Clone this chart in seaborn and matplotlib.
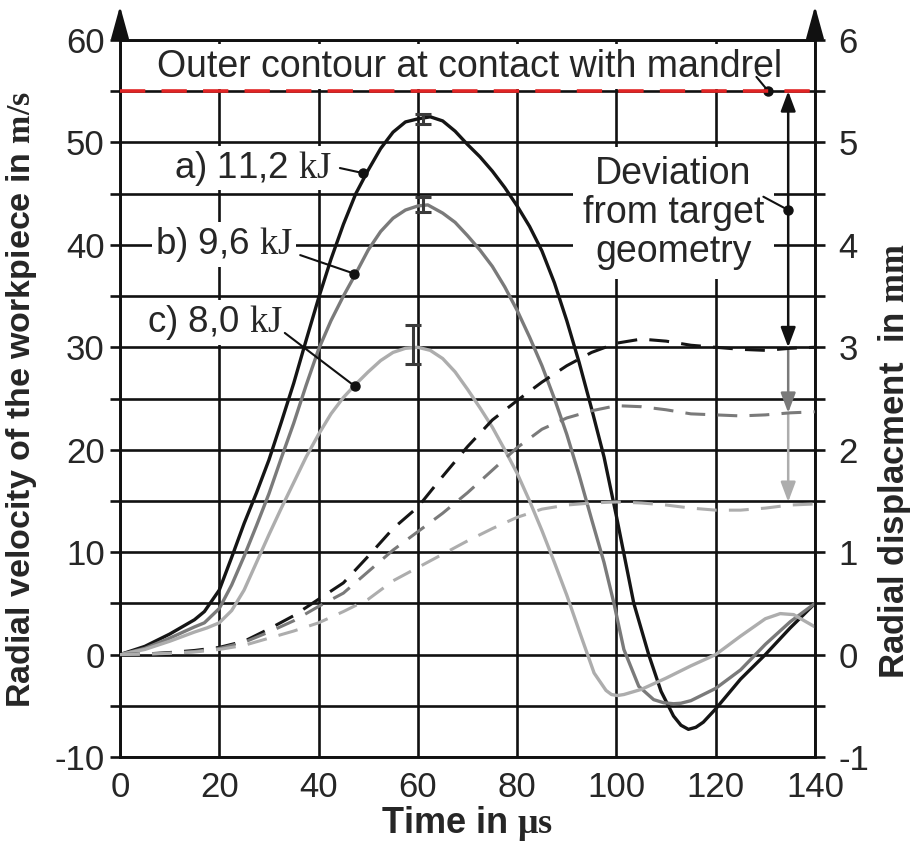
import numpy as np
import matplotlib
matplotlib.use("Agg")
import matplotlib.pyplot as plt
import seaborn as sns

# ---- radial velocity in m/s (solid curves, left axis) ----
t_a = [0, 5, 10, 15, 17, 20, 22.5, 25, 27.5, 30, 32.5, 35, 37.5, 40, 42.5, 45, 47.5, 50, 52.5, 55, 57.5,
       60, 62.5, 65, 67.5, 70, 72.5, 75, 77.5, 80, 82.5, 85, 87.5, 90, 92.5, 95, 97.5, 100,
       103.5, 106.5, 109, 111.5, 113, 114.5, 116, 117.5, 120, 125, 130, 135, 140]
v_a = [0, 0.8, 2.0, 3.4, 4.2, 6.3, 9.5, 12.8, 15.8, 19.0, 22.7, 26.5, 30.7, 34.8, 38.6, 42.0, 45.0, 47.3, 49.4, 51.0, 52.0,
       52.3, 52.5, 52.1, 51.1, 49.8, 48.6, 47.2, 45.6, 43.8, 41.8, 39.4, 36.3, 32.6, 28.5, 24.0, 19.3, 13.5,
       5.0, 0.0, -3.6, -6.0, -6.9, -7.3, -7.1, -6.6, -5.3, -2.4, 0.0, 2.6, 5.0]

t_b = [0, 5, 10, 15, 17, 20, 22.5, 25, 27.5, 30, 32.5, 35, 37.5, 40, 42.5, 45, 47.5, 50, 52.5, 55, 57.5,
       60, 62, 65, 67.5, 70, 72.5, 75, 77.5, 80, 82.5, 85, 87.5, 90, 92.5, 95, 97.5, 99.5,
       101.5, 104.5, 107.5, 109.5, 111.5, 113, 115, 120, 125, 130, 135, 140]
v_b = [0, 0.6, 1.6, 2.7, 3.1, 4.5, 6.8, 9.6, 12.6, 15.7, 19.2, 22.6, 26.3, 29.8, 32.6, 35.0, 37.2, 39.5, 41.3, 42.6, 43.4,
       43.8, 43.9, 43.1, 42.2, 40.9, 39.5, 37.9, 35.9, 33.6, 31.0, 28.2, 25.0, 21.5, 17.5, 13.2, 9.0, 5.0,
       0.5, -3.1, -4.4, -4.7, -4.8, -4.75, -4.5, -3.3, -1.5, 1.0, 3.2, 5.0]

t_c = [0, 5, 10, 15, 17.5, 20, 22.5, 25, 27.5, 30, 32.5, 35, 37.5, 40, 42.5, 45, 47.5, 50, 52.5, 55, 57.5,
       60, 62.5, 65, 67.5, 70, 72.5, 75, 77.5, 80, 82.5, 85, 87.5, 90,
       92.8, 95.5, 97.9, 99, 100.2, 101.5, 105, 110, 115, 120, 125, 130, 133, 135.7, 140]
v_c = [0, 0.5, 1.3, 2.2, 2.6, 3.1, 4.3, 6.3, 9.0, 11.7, 14.3, 16.8, 19.3, 21.5, 23.5, 25.1, 26.4, 27.6, 28.7, 29.5, 29.9,
       30.0, 29.7, 28.9, 27.6, 25.9, 24.1, 22.2, 20.0, 17.7, 15.0, 12.1, 9.0, 5.8,
       1.9, -1.8, -3.5, -3.9, -4.0, -3.9, -3.4, -2.3, -1.1, 0.0, 1.8, 3.5, 4.0, 3.9, 2.7]

# ---- radial displacement in mm (dashed curves, right axis) ----
t_disp = [0, 5, 10, 15, 20, 25, 30, 35, 40, 45, 50, 55, 60, 65, 70, 75, 80, 85, 90, 95, 100,
          105, 110, 115, 120, 125, 130, 135, 140]
d_a = [0, 0.005, 0.02, 0.04, 0.07, 0.13, 0.25, 0.38, 0.54, 0.70, 0.96, 1.23, 1.44, 1.74, 2.03, 2.29, 2.48, 2.66, 2.82, 2.95, 3.04,
       3.08, 3.06, 3.02, 3.00, 2.98, 2.97, 2.99, 3.00]
d_b = [0, 0.005, 0.015, 0.03, 0.06, 0.12, 0.22, 0.33, 0.47, 0.60, 0.81, 1.02, 1.20, 1.38, 1.58, 1.80, 2.02, 2.20, 2.31, 2.38, 2.43,
       2.42, 2.39, 2.35, 2.34, 2.33, 2.34, 2.36, 2.37]
d_c = [0, 0.004, 0.012, 0.025, 0.05, 0.09, 0.16, 0.23, 0.31, 0.42, 0.54, 0.72, 0.85, 0.98, 1.11, 1.23, 1.34, 1.42, 1.46, 1.48, 1.49,
       1.48, 1.46, 1.43, 1.41, 1.41, 1.43, 1.46, 1.47]

# scatter of the peak velocity
err_t = [61, 61, 59]
err_v = [52.3, 43.95, 30.3]
err_size = [0.5, 0.75, 1.9]

labels = ["a) 11,2 $\\mathrm{kJ}$", "b) 9,6 $\\mathrm{kJ}$", "c) 8,0 $\\mathrm{kJ}$"]
colors = ["#151515", "#7a7a7a", "#adadad"]

target_mm = 5.5
vel_ticks = list(range(-10, 61, 5))
vel_ticklabels = [str(v) if v % 10 == 0 else "" for v in vel_ticks]
mm_ticks = list(np.arange(-1, 6.01, 0.5))
mm_ticklabels = [str(int(v)) if v == int(v) else "" for v in mm_ticks]
time_ticks = list(range(0, 141, 20))

sns.set_style("white")
plt.rcParams["font.family"] = ["Liberation Sans", "DejaVu Sans"]
plt.rcParams["mathtext.fontset"] = "custom"
plt.rcParams["mathtext.rm"] = "Liberation Serif"
plt.rcParams["mathtext.bf"] = "Liberation Serif:bold"
plt.rcParams["axes.unicode_minus"] = False

LW_GRID = 1.9
fig = plt.figure(figsize=(9.16, 8.44), dpi=100)
ax = fig.add_axes([120 / 916, 87 / 844, 695 / 916, 717 / 844])
ax2 = ax.twinx()

# grid / axes
ax.set_xlim(0, 140)
ax.set_ylim(-10, 60)
ax2.set_ylim(-1, 6)
ax.set_axisbelow(True)
ax.grid(True, color="#111111", lw=LW_GRID)
ax2.grid(False)
ax.set_xticks(time_ticks)
ax.set_yticks(vel_ticks)
ax.set_yticklabels(vel_ticklabels)
ax2.set_yticks(mm_ticks)
ax2.set_yticklabels(mm_ticklabels)
for a in (ax, ax2):
    for s in a.spines.values():
        s.set_linewidth(LW_GRID)
        s.set_color("#111111")
ax.tick_params(axis="both", direction="out", length=7, width=LW_GRID, color="#111111",
               labelsize=25, pad=4)
ax.tick_params(axis="x", pad=3)
ax2.tick_params(axis="y", direction="out", length=7, width=LW_GRID, color="#111111",
                labelsize=25, pad=10)

# solid velocity curves
for t, v, c in zip([t_a, t_b, t_c], [v_a, v_b, v_c], colors):
    sns.lineplot(x=t, y=v, ax=ax, color=c, lw=2.4, zorder=4)

# dashed displacement curves
for d, c in zip([d_a, d_b, d_c], colors):
    sns.lineplot(x=t_disp, y=d, ax=ax2, color=c, lw=2.2, linestyle=(0, (6.5, 4)), zorder=4)

# error bars at peaks
ax.errorbar(err_t, err_v, yerr=err_size, fmt="none", ecolor="#3a3a3a",
            elinewidth=2.2, capsize=6, capthick=2.2, zorder=5)

# target geometry line
ax2.axhline(target_mm, color="#e02424", lw=2.6, ls=(0, (7, 4.5)), zorder=3)
ax.text(70.5, 57.4, "Outer contour at contact with mandrel", fontsize=27, ha="center", va="center",
        bbox=dict(boxstyle="square,pad=0.12", fc="white", ec="none"), zorder=3)
ax.plot([128.2, 130.6], [56.4, 55.0], color="#111111", lw=1.5, zorder=6)
ax.plot([130.6], [55.0], "o", color="#111111", ms=6.5, zorder=6)

# curve labels
lab_pos = [(42.9, 47.5), (34.9, 40.0), (32.8, 32.4)]
lead_start = [(44.3, 47.5), (36.3, 39.0), (33.2, 31.4)]
lead_end = [(49.0, 47.0), (47.1, 37.2), (47.3, 26.2)]
for lab, p, s, e in zip(labels, lab_pos, lead_start, lead_end):
    ax.text(p[0], p[1], lab, fontsize=26.5, ha="right", va="center",
            bbox=dict(boxstyle="square,pad=0.08", fc="white", ec="none"), zorder=3)
    ax.plot([s[0], e[0]], [s[1], e[1]], color="#111111", lw=1.5, zorder=6)
    ax.plot([e[0]], [e[1]], "o", color="#111111", ms=6.5, zorder=6)

# deviation arrows
x_dev = 134.6
arr = dict(mutation_scale=15, lw=1.8, shrinkA=0, shrinkB=0)
ax.annotate("", xy=(x_dev, 30.0), xytext=(x_dev, 55.0),
            arrowprops=dict(arrowstyle="<|-|>,head_length=0.8,head_width=0.3", color="#111111", **arr), zorder=6)
ax.annotate("", xy=(x_dev, d_b[-2] * 10), xytext=(x_dev, 30.0),
            arrowprops=dict(arrowstyle="-|>,head_length=0.8,head_width=0.3", color="#7a7a7a", **arr), zorder=6)
ax.annotate("", xy=(x_dev, d_c[-2] * 10 + 0.3), xytext=(x_dev, d_b[-2] * 10),
            arrowprops=dict(arrowstyle="-|>,head_length=0.8,head_width=0.3", color="#adadad", **arr), zorder=6)
ax.text(111.5, 43.1, "Deviation\nfrom target\ngeometry", fontsize=27, ha="center", va="center",
        multialignment="center", linespacing=1.1,
        bbox=dict(boxstyle="square,pad=0.25", fc="white", ec="none"), zorder=3)
ax.plot([129.6, x_dev], [44.7, 43.4], color="#111111", lw=1.5, zorder=6)
ax.plot([x_dev], [43.4], "o", color="#111111", ms=6.5, zorder=6)

# arrow heads on the vertical axes
for xa in (0, 1):
    ax.annotate("", xy=(xa, 1 + 34 / 717), xytext=(xa, 1.0), xycoords="axes fraction",
                arrowprops=dict(arrowstyle="-|>,head_length=0.8,head_width=0.22", mutation_scale=25,
                                lw=LW_GRID, color="#111111", shrinkA=0, shrinkB=0),
                annotation_clip=False)

# axis labels
ax.set_xlabel("Time in $\\mathbf{μs}$", fontsize=26, fontweight="bold", labelpad=0)
ax.set_ylabel("Radial velocity of the workpiece in $\\mathbf{m/s}$", fontsize=24.5, fontweight="bold")
ax.yaxis.set_label_coords(-0.117, 0.498)
ax2.set_ylabel("Radial displacment  in $\\mathbf{mm}$", fontsize=25, fontweight="bold")
ax2.yaxis.set_label_coords(1.088, 0.413)

fig.savefig("out.png", dpi=100)
